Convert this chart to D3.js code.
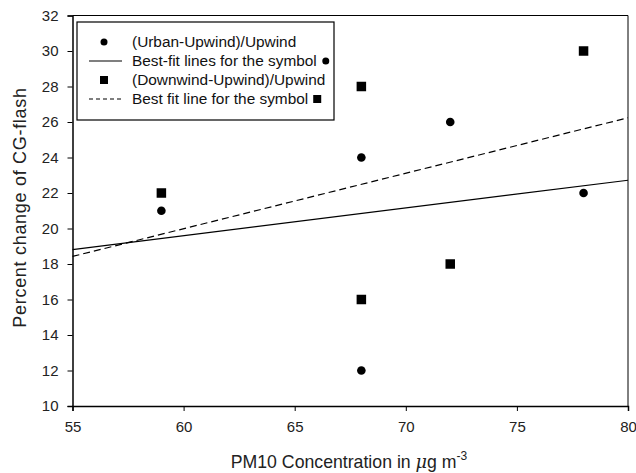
<!DOCTYPE html>
<html>
<head>
<meta charset="utf-8">
<script src="https://cdn.jsdelivr.net/npm/d3@7"></script>
<style>
	body { margin: 0; background: #fff; }
	svg { display: block; font-family: Arial, "Liberation Sans", sans-serif; }
	.tick text { fill: #222; font-size: 15px; }
</style>
</head>
<body>
<div id="chart"></div>
<script>
// values
const pm10 = [59, 68, 68, 72, 78];
const urbanUpwind = [21, 24, 12, 26, 22];
const downwindUpwind = [22, 28, 16, 18, 30];
const xTicks = [55, 60, 65, 70, 75, 80];
const yTicks = [10, 12, 14, 16, 18, 20, 22, 24, 26, 28, 30, 32];
const legendLabels = [
	'(Urban-Upwind)/Upwind',
	'Best-fit lines for the symbol',
	'(Downwind-Upwind)/Upwind',
	'Best fit line for the symbol'
];

const width = 636;
const height = 473;
const marginLeft = 72.5;
const marginRight = 8;
const marginTop = 15.5;
const marginBottom = 67;

const x = d3.scaleLinear().domain([55, 80]).range([marginLeft, width - marginRight]);
const y = d3.scaleLinear().domain([10, 32]).range([height - marginBottom, marginTop]);

// least squares fit
function fit(xs, ys) {
	const mx = d3.mean(xs);
	const my = d3.mean(ys);
	const sxy = d3.sum(xs, (v, i) => (v - mx) * (ys[i] - my));
	const sxx = d3.sum(xs, v => (v - mx) * (v - mx));
	const b = sxy / sxx;
	return v => my + b * (v - mx);
}

const $svg = d3.select('#chart').append('svg')
	.attr('width', width)
	.attr('height', height);

// frame (top & right)
$svg.append('path')
	.attr('d', `M${x(55)},${y(32)}H${x(80)}V${y(10)}`)
	.attr('fill', 'none')
	.attr('stroke', '#000')
	.attr('stroke-width', 1);

const $xAxis = $svg.append('g')
	.attr('transform', `translate(0,${y(10)})`)
	.call(d3.axisBottom(x).tickValues(xTicks).tickSize(5).tickPadding(10));
const $yAxis = $svg.append('g')
	.attr('transform', `translate(${x(55)},0)`)
	.call(d3.axisLeft(y).tickValues(yTicks).tickSize(5).tickPadding(9));
[$xAxis, $yAxis].forEach($a => {
	$a.select('.domain').attr('stroke-width', 1.5);
	$a.selectAll('.tick text').style('font-family', 'Arial, "Liberation Sans", sans-serif');
});

// fit lines
const fitA = fit(pm10, urbanUpwind);
const fitB = fit(pm10, downwindUpwind);
const line = d3.line().x(d => x(d[0])).y(d => y(d[1]));
$svg.append('path')
	.attr('d', line(x.domain().map(v => [v, fitA(v)])))
	.attr('fill', 'none').attr('stroke', '#000').attr('stroke-width', 1.2);
$svg.append('path')
	.attr('d', line(x.domain().map(v => [v, fitB(v)])))
	.attr('fill', 'none').attr('stroke', '#000').attr('stroke-width', 1.2)
	.attr('stroke-dasharray', '7,4');

// points
$svg.append('g').selectAll('circle')
	.data(pm10.map((v, i) => [v, urbanUpwind[i]]))
	.join('circle')
	.attr('cx', d => x(d[0]))
	.attr('cy', d => y(d[1]))
	.attr('r', 4.3)
	.attr('fill', '#000');
const sq = 9.5;
$svg.append('g').selectAll('rect')
	.data(pm10.map((v, i) => [v, downwindUpwind[i]]))
	.join('rect')
	.attr('x', d => x(d[0]) - sq / 2)
	.attr('y', d => y(d[1]) - sq / 2)
	.attr('width', sq)
	.attr('height', sq)
	.attr('fill', '#000');

// legend
const $leg = $svg.append('g').attr('transform', 'translate(77,22)');
$leg.append('rect')
	.attr('width', 257).attr('height', 98)
	.attr('fill', '#fff').attr('stroke', '#000').attr('stroke-width', 1.2);
const rowY = i => 20 + i * 19;
$leg.selectAll('text')
	.data(legendLabels)
	.join('text')
	.attr('x', 55)
	.attr('y', (d, i) => rowY(i))
	.attr('dy', '0.35em')
	.attr('font-size', 15.4)
	.attr('fill', '#111')
	.text(d => d);
$leg.append('circle').attr('cx', 27).attr('cy', rowY(0)).attr('r', 3.5).attr('fill', '#000');
$leg.append('rect').attr('x', 23).attr('y', rowY(2) - 4).attr('width', 8).attr('height', 8).attr('fill', '#000');
$leg.append('line').attr('x1', 12).attr('x2', 45).attr('y1', rowY(1)).attr('y2', rowY(1))
	.attr('stroke', '#000').attr('stroke-width', 1.2);
$leg.append('line').attr('x1', 12).attr('x2', 45).attr('y1', rowY(3)).attr('y2', rowY(3))
	.attr('stroke', '#000').attr('stroke-width', 1.2).attr('stroke-dasharray', '4,3');
// trailing symbols after legend text
$leg.selectAll('.trail')
	.data([1, 3])
	.join('g')
	.attr('class', 'trail')
	.each(function (i) {
		const t = $leg.selectAll('text').filter((d, j) => j === i).node();
		const end = 55 + t.getComputedTextLength() + 9;
		if (i === 1) {
			d3.select(this).append('circle').attr('cx', end).attr('cy', rowY(i)).attr('r', 3.5).attr('fill', '#000');
		} else {
			d3.select(this).append('rect').attr('x', end - 4).attr('y', rowY(i) - 4).attr('width', 8).attr('height', 8).attr('fill', '#000');
		}
	});

// axis titles
const $xt = $svg.append('text')
	.attr('x', 349)
	.attr('y', 468)
	.attr('text-anchor', 'middle')
	.attr('font-size', 17.7)
	.attr('fill', '#222');
$xt.append('tspan').text('PM10 Concentration in ');
$xt.append('tspan').attr('font-family', '"DejaVu Serif", serif').attr('font-style', 'italic').text('μ');
$xt.append('tspan').text('g m');
$xt.append('tspan').attr('font-size', 12).attr('dy', -8).text('-3');

$svg.append('text')
	.attr('transform', 'translate(25.5,207.5) rotate(-90)')
	.attr('text-anchor', 'middle')
	.attr('font-size', 18)
	.attr('letter-spacing', 0.7)
	.attr('fill', '#222')
	.text('Percent change of CG-flash');
</script>
</body>
</html>
